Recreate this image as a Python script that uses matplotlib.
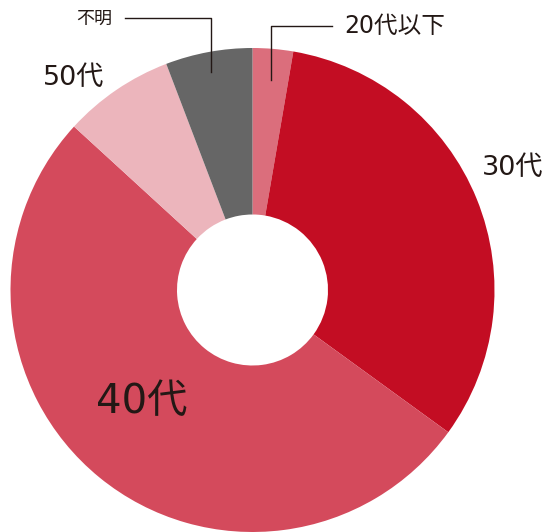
import matplotlib.pyplot as plt

plt.rcParams['font.family'] = ['DejaVu Sans', 'Noto Sans CJK JP']

# data (share in %, clockwise from top)
labels = ['20代以下', '30代', '40代', '50代', '不明']
shares = [2.7, 32.3, 51.8, 7.4, 5.8]
colors = ['#db6e7c', '#c30d23', '#d44a5c', '#ecb5bc', '#666666']

W, H = 551, 532
fig = plt.figure(figsize=(W / 100, H / 100), dpi=100)
ax = fig.add_axes([0, 0, 1, 1])

cx, cy = 252.5, H - 290
r_out, r_in = 242, 75.5
ax.pie(shares, colors=colors, startangle=90, counterclock=False,
       center=(cx, cy), radius=r_out, frame=True,
       wedgeprops=dict(width=r_out - r_in, linewidth=0))
ax.set_xlim(0, W)
ax.set_ylim(0, H)
ax.set_aspect('equal')
ax.axis('off')

txt = '#231815'
# leader lines
ax.plot([125, 211, 211], [H - 18, H - 18, H - 72], color=txt, lw=1)
ax.plot([332, 271, 271], [H - 26, H - 26, H - 80], color=txt, lw=1)

ax.text(94, H - 19, '不明', fontsize=13, color=txt, ha='center', va='center')
ax.text(395, H - 26, '20代以下', fontsize=17, color=txt, ha='center', va='center')
ax.text(74, H - 78, '50代', fontsize=19.5, color=txt, ha='center', va='center')
ax.text(513, H - 168, '30代', fontsize=19.5, color=txt, ha='center', va='center')
ax.text(142, H - 402, '40代', fontsize=29, color=txt, ha='center', va='center')

fig.savefig('out.png', dpi=100)
